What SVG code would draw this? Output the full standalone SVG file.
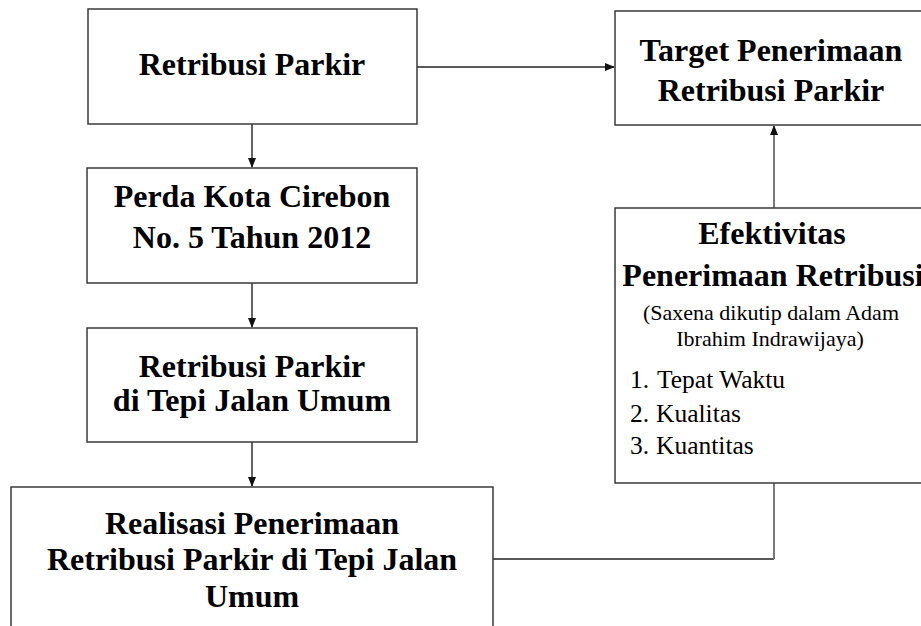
<svg xmlns="http://www.w3.org/2000/svg" width="921" height="626" viewBox="0 0 921 626">
<style>
.box{fill:#fff;stroke:#3a3a3a;stroke-width:1.5}
.t{font-family:"Liberation Serif","Times New Roman",serif;font-weight:bold;font-size:32px;fill:#000;text-anchor:middle}
.s{font-family:"Liberation Serif","Times New Roman",serif;font-size:22px;fill:#000;text-anchor:middle}
.l{font-family:"Liberation Serif","Times New Roman",serif;font-size:25.5px;fill:#000}
.c{fill:none;stroke:#222;stroke-width:1.4}
.g{fill:none;stroke:#7a7a7a;stroke-width:2}
</style>
<defs>
<marker id="ah" markerWidth="10" markerHeight="8" refX="9" refY="4" orient="auto" markerUnits="userSpaceOnUse">
<path d="M0,0 L10,4 L0,8 Z" fill="#111"/>
</marker>
</defs>
<rect width="921" height="626" fill="#fff"/>
<g id="connectors">
<line class="c" x1="417" y1="67" x2="614" y2="67" marker-end="url(#ah)"/>
<line class="c" x1="252" y1="124" x2="252" y2="167" marker-end="url(#ah)"/>
<line class="c" x1="252" y1="283" x2="252" y2="327" marker-end="url(#ah)"/>
<line class="c" x1="252" y1="442" x2="252" y2="486" marker-end="url(#ah)"/>
<polyline class="c" points="493,559 774,559"/>
<line class="g" x1="774" y1="559" x2="774" y2="483"/>
<line class="g" x1="774" y1="208" x2="774" y2="126" marker-end="url(#ah)"/>
</g>
<g id="node-retribusi">
<rect class="box" x="88" y="9" width="329" height="115"/>
<text class="t" x="252" y="75">Retribusi Parkir</text>
</g>
<g id="node-target">
<rect class="box" x="615" y="11" width="312" height="114"/>
<text class="t" x="771" y="61">Target Penerimaan</text>
<text class="t" x="771" y="101">Retribusi Parkir</text>
</g>
<g id="node-perda">
<rect class="box" x="87" y="168" width="330" height="115"/>
<text class="t" x="252" y="207">Perda Kota Cirebon</text>
<text class="t" x="252" y="248">No. 5 Tahun 2012</text>
</g>
<g id="node-tepi">
<rect class="box" x="87" y="328" width="330" height="114"/>
<text class="t" x="252" y="377">Retribusi Parkir</text>
<text class="t" x="252" y="411">di Tepi Jalan Umum</text>
</g>
<g id="node-realisasi">
<rect class="box" x="11" y="487" width="482" height="145"/>
<text class="t" x="252" y="534">Realisasi Penerimaan</text>
<text class="t" x="252" y="570">Retribusi Parkir di Tepi Jalan</text>
<text class="t" x="252" y="607">Umum</text>
</g>
<g id="node-efektivitas">
<rect class="box" x="615" y="208" width="312" height="275"/>
<text class="t" x="772" y="244">Efektivitas</text>
<text class="t" x="773" y="286">Penerimaan Retribusi</text>
<text class="s" x="771" y="320">(Saxena dikutip dalam Adam</text>
<text class="s" x="770" y="346">Ibrahim Indrawijaya)</text>
<text class="l" y="388"><tspan x="630">1.</tspan><tspan x="657">Tepat Waktu</tspan></text>
<text class="l" y="422"><tspan x="630">2.</tspan><tspan x="656">Kualitas</tspan></text>
<text class="l" y="454"><tspan x="630">3.</tspan><tspan x="656">Kuantitas</tspan></text>
</g>
</svg>
